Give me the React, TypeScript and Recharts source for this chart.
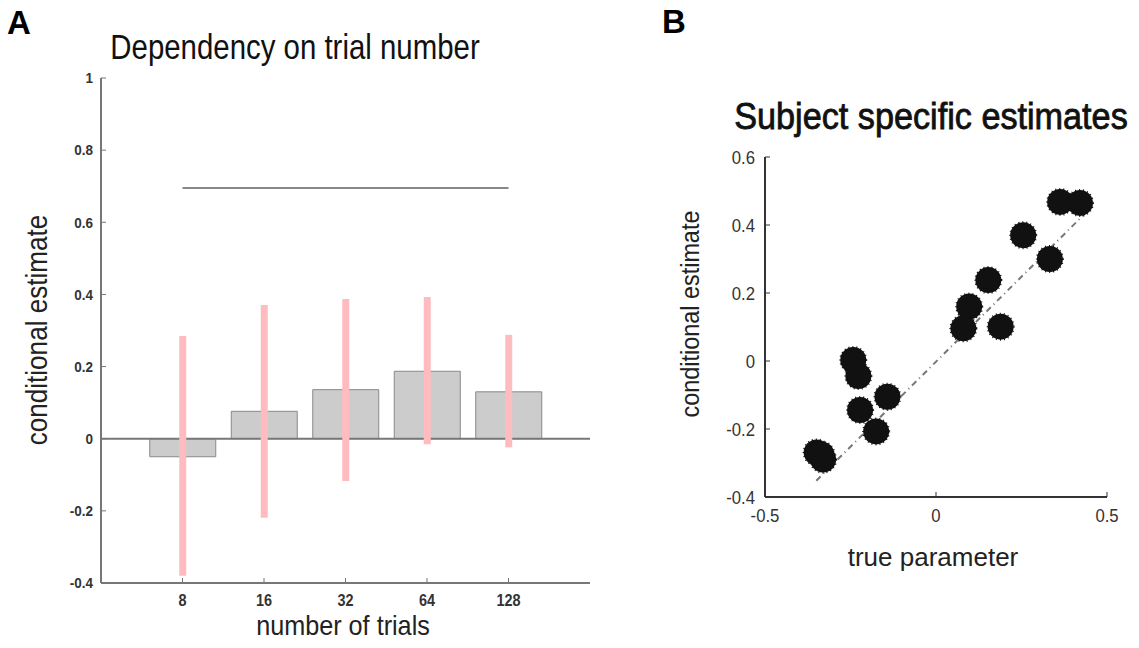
import React from 'react';
import {
  ComposedChart, Bar, ErrorBar, Line, XAxis, YAxis, ReferenceLine,
  ScatterChart, Scatter,
} from 'recharts';

// Panel A data
const trialCategories = ['8', '16', '32', '64', '128'];
const estimateMeans = [-0.05, 0.076, 0.136, 0.187, 0.13];
const ciLow = [-0.38, -0.219, -0.117, -0.015, -0.024];
const ciHigh = [0.285, 0.371, 0.387, 0.393, 0.288];
const trueValueLine = [0.695, 0.695, 0.695, 0.695, 0.695];
const yTicksA = [-0.4, -0.2, 0, 0.2, 0.4, 0.6, 0.8, 1];

// Panel B data
const trueParams = [0.363, 0.421, 0.255, 0.333, 0.153, 0.097, 0.08, 0.189, -0.242, -0.227, -0.142, -0.222, -0.175, -0.349, -0.33, -0.335];
const condEstimates = [0.468, 0.465, 0.37, 0.3, 0.238, 0.16, 0.096, 0.101, 0.003, -0.044, -0.105, -0.144, -0.207, -0.269, -0.29, -0.275];
const fitX = [-0.35, 0.44];
const fitY = [-0.352, 0.438];
const xTicksB = [-0.5, 0, 0.5];
const yTicksB = [-0.4, -0.2, 0, 0.2, 0.4, 0.6];

const dataA = trialCategories.map((c, i) => ({
  cat: c,
  mean: estimateMeans[i],
  err: [estimateMeans[i] - ciLow[i], ciHigh[i] - estimateMeans[i]],
  truth: trueValueLine[i],
}));
const dataB = trueParams.map((x, i) => ({ x, y: condEstimates[i] }));
const fitData = fitX.map((x, i) => ({ x, y: fitY[i] }));

const FONT = '"Liberation Sans", Arial, sans-serif';
const AXIS = '#777';

const Dot = (props: any) => (
  <circle cx={props.cx} cy={props.cy} r={13} fill="#111" stroke="#111" strokeWidth={2} strokeDasharray="1 3" />
);
const NoShape = () => <g />;

const makeTick = (fontSize: number, weight: number, fill: string, sx: number, vertical: 'top' | 'middle') =>
  (props: any) => {
    const { x, y, payload, textAnchor } = props;
    return (
      <text
        x={0}
        y={0}
        transform={`translate(${x},${y}) scale(${sx},1)`}
        textAnchor={textAnchor}
        dy={vertical === 'top' ? '0.71em' : '0.355em'}
        fontSize={fontSize}
        fontWeight={weight}
        fill={fill}
        fontFamily={FONT}
      >
        {String(payload.value)}
      </text>
    );
  };

const TickAX = makeTick(17, 700, '#333', 0.85, 'top');
const TickAY = makeTick(15, 700, '#333', 0.9, 'middle');
const TickBX = makeTick(19, 400, '#333', 0.88, 'top');
const TickBY = makeTick(19, 400, '#333', 0.88, 'middle');

const text = (cx: number, cy: number, sx: number, style: React.CSSProperties, content: string, rotate = false) => (
  <div
    style={{
      position: 'absolute',
      left: cx,
      top: cy,
      fontFamily: FONT,
      whiteSpace: 'nowrap',
      lineHeight: 1,
      transform: `translate(-50%,-50%)${rotate ? ' rotate(-90deg)' : ''} scaleX(${sx})`,
      ...style,
    }}
  >
    {content}
  </div>
);

export default function App() {
  return (
    <div style={{ position: 'absolute', left: 0, top: 0, width: 1139, height: 648, background: '#fff', overflow: 'hidden' }}>
      <div style={{ position: 'absolute', left: 0, top: 0 }}>
        <ComposedChart width={620} height={648} data={dataA} margin={{ top: 78, right: 30, bottom: 35, left: 41 }}>
          <XAxis
            dataKey="cat"
            type="category"
            padding={{ left: 40.75, right: 40.75 }}
            height={30}
            axisLine={{ stroke: AXIS, strokeWidth: 2 }}
            tickLine={{ stroke: AXIS }}
            tickSize={-5}
            tickMargin={16}
            tick={TickAX}
            interval={0}
          />
          <YAxis
            type="number"
            domain={[-0.4, 1]}
            ticks={yTicksA}
            width={60}
            axisLine={{ stroke: AXIS, strokeWidth: 2 }}
            tickLine={{ stroke: AXIS }}
            tickSize={-5}
            tickMargin={13}
            tick={TickAY}
            allowDataOverflow
          />
          <ReferenceLine y={0} stroke={AXIS} strokeWidth={2} />
          <Bar dataKey="mean" fill="#cccccc" stroke="#888" strokeWidth={1} barSize={66} isAnimationActive={false}>
            <ErrorBar dataKey="err" width={0} stroke="#ffbcc0" strokeWidth={7} direction="y" />
          </Bar>
          <Line dataKey="truth" stroke="#888" strokeWidth={2} dot={false} isAnimationActive={false} />
        </ComposedChart>
      </div>
      <div style={{ position: 'absolute', left: 660, top: 0 }}>
        <ScatterChart width={479} height={648} margin={{ top: 157, right: 32, bottom: 121, left: 45 }}>
          <XAxis
            dataKey="x"
            type="number"
            domain={[-0.5, 0.5]}
            ticks={xTicksB}
            height={30}
            axisLine={{ stroke: '#333', strokeWidth: 2 }}
            tickLine={{ stroke: '#333' }}
            tickSize={-5}
            tickMargin={16}
            tick={TickBX}
          />
          <XAxis
            xAxisId="top"
            orientation="top"
            type="number"
            domain={[-0.5, 0.5]}
            ticks={xTicksB}
            height={0}
            axisLine={{ stroke: '#333', strokeWidth: 2 }}
            tickLine={{ stroke: '#333' }}
            tickSize={-5}
            tickFormatter={() => ''}
          />
          <YAxis
            dataKey="y"
            type="number"
            domain={[-0.4, 0.6]}
            ticks={yTicksB}
            width={60}
            axisLine={{ stroke: '#333', strokeWidth: 2 }}
            tickLine={{ stroke: '#333' }}
            tickSize={-5}
            tickMargin={15}
            tick={TickBY}
          />
          <YAxis
            yAxisId="right"
            orientation="right"
            type="number"
            domain={[-0.4, 0.6]}
            ticks={yTicksB}
            width={0}
            axisLine={{ stroke: '#333', strokeWidth: 2 }}
            tickLine={{ stroke: '#333' }}
            tickSize={-5}
            tickFormatter={() => ''}
          />
          <Scatter
            data={fitData}
            shape={NoShape}
            line={{ stroke: '#777', strokeWidth: 2, strokeDasharray: '6 4 1 4' }}
            isAnimationActive={false}
          />
          <Scatter data={dataB} shape={Dot} isAnimationActive={false} />
        </ScatterChart>
      </div>

      {text(19, 22, 1, { fontSize: 33, fontWeight: 700, color: '#000' }, 'A')}
      {text(674, 21, 1, { fontSize: 33, fontWeight: 700, color: '#000' }, 'B')}
      {text(295, 46, 0.84, { fontSize: 35, color: '#111' }, 'Dependency on trial number')}
      {text(931, 117, 0.95, { fontSize: 36, color: '#111', WebkitTextStroke: '0.8px #111' }, 'Subject specific estimates')}
      {text(343, 626, 0.9, { fontSize: 28, color: '#222' }, 'number of trials')}
      {text(933, 557, 1.0, { fontSize: 26, color: '#222' }, 'true parameter')}
      {text(37, 330, 0.9, { fontSize: 29, color: '#222' }, 'conditional estimate', true)}
      {text(690, 314, 0.9, { fontSize: 26, color: '#222' }, 'conditional estimate', true)}
    </div>
  );
}
